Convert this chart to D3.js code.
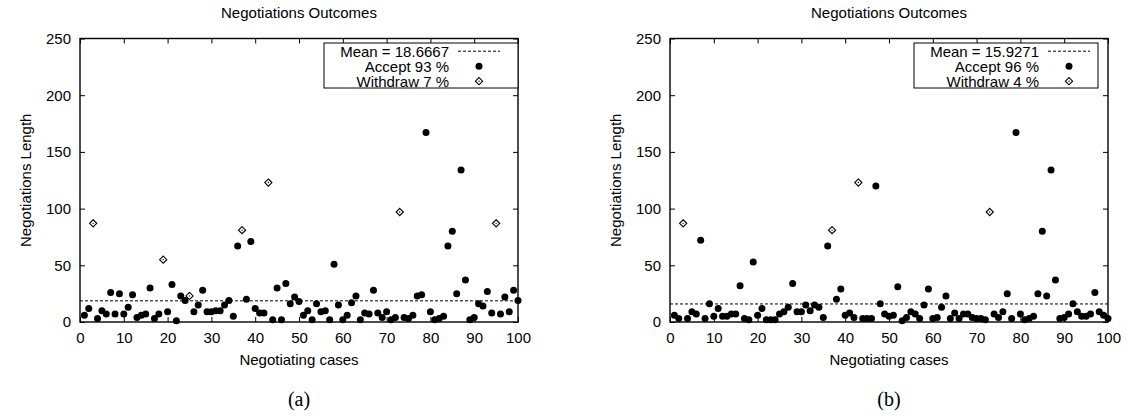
<!DOCTYPE html>
<html>
<head>
<meta charset="utf-8">
<script src="https://cdn.jsdelivr.net/npm/d3@7"></script>
<style>
  html, body { margin: 0; padding: 0; background: #fff; }
  svg { display: block; }
  svg text { font-family: "Liberation Sans", Arial, Helvetica, sans-serif; fill: #000; }
  svg text.tag { font-family: "Liberation Serif", "Times New Roman", serif; }
</style>
</head>
<body>
<div id="chart"></div>
<script>
// negotiation length per case, cases 1..100
const lengthA = [6, 12, 87, 3, 10, 7, 26, 7, 25, 7,
  13, 24, 4, 6, 7, 30, 3, 7, 55, 9,
  33, 1, 23, 19, 23, 9, 15, 28, 9, 9,
  10, 10, 15, 19, 5, 67, 81, 20, 71, 12,
  8, 8, 123, 2, 30, 2, 34, 16, 22, 18,
  6, 10, 2, 16, 9, 10, 2, 51, 15, 2,
  6, 17, 23, 2, 8, 7, 28, 8, 4, 9,
  2, 4, 97, 4, 3, 6, 23, 24, 167, 9,
  2, 3, 5, 67, 80, 25, 134, 37, 2, 4,
  16, 14, 27, 8, 87, 7, 22, 9, 28, 19];
const withdrawA = [3, 19, 25, 37, 43, 73, 95];
const meanA = 18.6667;

const lengthB = [6, 3, 87, 3, 9, 7, 72, 3, 16, 5,
  12, 5, 5, 7, 7, 32, 3, 2, 53, 6,
  12, 2, 2, 2, 7, 9, 13, 34, 9, 9,
  15, 10, 15, 13, 4, 67, 81, 20, 29, 6,
  8, 4, 123, 3, 3, 3, 120, 16, 7, 5,
  6, 31, 1, 4, 9, 7, 3, 15, 29, 3,
  4, 13, 23, 3, 8, 3, 7, 7, 4, 3,
  3, 2, 97, 7, 4, 9, 25, 3, 167, 7,
  2, 3, 5, 25, 80, 23, 134, 37, 3, 4,
  7, 16, 9, 5, 5, 7, 26, 9, 6, 3];
const withdrawB = [3, 37, 43, 73];
const meanB = 15.9271;

const xTicks = [0, 10, 20, 30, 40, 50, 60, 70, 80, 90, 100];
const yTicks = [0, 50, 100, 150, 200, 250];

const panels = [
  { left: 80, values: lengthA, withdraw: withdrawA, mean: meanA, accept: "Accept 93 %", wd: "Withdraw 7 %", tag: "(a)", boxW: 194 },
  { left: 670, values: lengthB, withdraw: withdrawB, mean: meanB, accept: "Accept 96 %", wd: "Withdraw 4 %", tag: "(b)", boxW: 184 }
];

const W = 1127, H = 418;
const plotW = 438, plotTop = 38.5, plotBottom = 322;

const svg = d3.select("#chart").append("svg")
  .attr("width", W).attr("height", H);

function diamond(sel, x, y) {
  const s = 3.6;
  sel.append("path")
    .attr("d", `M${x},${y - s}L${x + s},${y}L${x},${y + s}L${x - s},${y}Z`)
    .attr("fill", "#fff").attr("stroke", "#000").attr("stroke-width", 1.1);
  sel.append("circle").attr("cx", x).attr("cy", y).attr("r", 0.7).attr("fill", "#000");
}

panels.forEach(p => {
  const xscale = d3.scaleLinear().domain([0, 100]).range([p.left, p.left + plotW]);
  const yscale = d3.scaleLinear().domain([0, 250]).range([plotBottom, plotTop]);
  const g = svg.append("g");

  // inward ticks on all four sides
  const ax = [
    [d3.axisBottom(xscale).tickValues(xTicks).tickSize(-5).tickPadding(10), `translate(0,${plotBottom})`],
    [d3.axisTop(xscale).tickValues(xTicks).tickSize(-5).tickFormat(""), `translate(0,${plotTop})`],
    [d3.axisLeft(yscale).tickValues(yTicks).tickSize(-5).tickPadding(9), `translate(${p.left},0)`],
    [d3.axisRight(yscale).tickValues(yTicks).tickSize(-5).tickFormat(""), `translate(${p.left + plotW},0)`]
  ];
  ax.forEach(([axis, tr]) => {
    const a = g.append("g").attr("transform", tr).call(axis.tickSizeOuter(0));
    a.attr("font-family", null).attr("font-size", null);
    a.select(".domain").remove();
    a.selectAll("line").attr("stroke", "#000").attr("stroke-width", 1);
    a.selectAll("text").attr("font-size", 15);
  });

  g.append("rect")
    .attr("x", p.left).attr("y", plotTop)
    .attr("width", plotW).attr("height", plotBottom - plotTop)
    .attr("fill", "none").attr("stroke", "#000").attr("stroke-width", 1.4);

  // mean line
  g.append("line")
    .attr("x1", p.left).attr("x2", p.left + plotW)
    .attr("y1", yscale(p.mean)).attr("y2", yscale(p.mean))
    .attr("stroke", "#000").attr("stroke-width", 1).attr("stroke-dasharray", "3,2");

  // accepted cases
  g.selectAll(".dot")
    .data(p.values.map((v, i) => ({ c: i + 1, v })).filter(d => !p.withdraw.includes(d.c)))
    .enter().append("circle")
    .attr("class", "dot")
    .attr("cx", d => xscale(d.c))
    .attr("cy", d => yscale(d.v))
    .attr("r", 3.5)
    .attr("fill", "#000");

  // withdrawn cases
  p.withdraw.forEach(c => diamond(g, xscale(c), yscale(p.values[c - 1])));

  // legend
  const bx = p.left + plotW - 194, by = 43;
  g.append("rect").attr("x", bx).attr("y", by).attr("width", p.boxW).attr("height", 45)
    .attr("fill", "#fff").attr("stroke", "#000").attr("stroke-width", 1);
  const rows = [["Mean = " + p.mean, 51.2], [p.accept, 66.2], [p.wd, 81.2]];
  rows.forEach(([t, y]) => {
    g.append("text").attr("x", bx + 125).attr("y", y + 5.3)
      .attr("text-anchor", "end").attr("font-size", 15).text(t);
  });
  g.append("line").attr("x1", bx + 134).attr("x2", bx + 176)
    .attr("y1", rows[0][1]).attr("y2", rows[0][1])
    .attr("stroke", "#000").attr("stroke-width", 1).attr("stroke-dasharray", "3,2");
  g.append("circle").attr("cx", bx + 155).attr("cy", rows[1][1]).attr("r", 3.5).attr("fill", "#000");
  diamond(g, bx + 155, rows[2][1]);

  // titles
  const cx = p.left + plotW / 2;
  g.append("text").attr("x", cx).attr("y", 17.5).attr("text-anchor", "middle")
    .attr("font-size", 15).text("Negotiations Outcomes");
  g.append("text").attr("x", cx).attr("y", 365).attr("text-anchor", "middle")
    .attr("font-size", 15).text("Negotiating cases");
  g.append("text")
    .attr("transform", `translate(${p.left - 49},${(plotTop + plotBottom) / 2}) rotate(-90)`)
    .attr("text-anchor", "middle").attr("font-size", 15).text("Negotiations Length");
  g.append("text").attr("class", "tag").attr("x", cx).attr("y", 406).attr("text-anchor", "middle")
    .attr("font-size", 20).text(p.tag);
});
</script>
</body>
</html>
